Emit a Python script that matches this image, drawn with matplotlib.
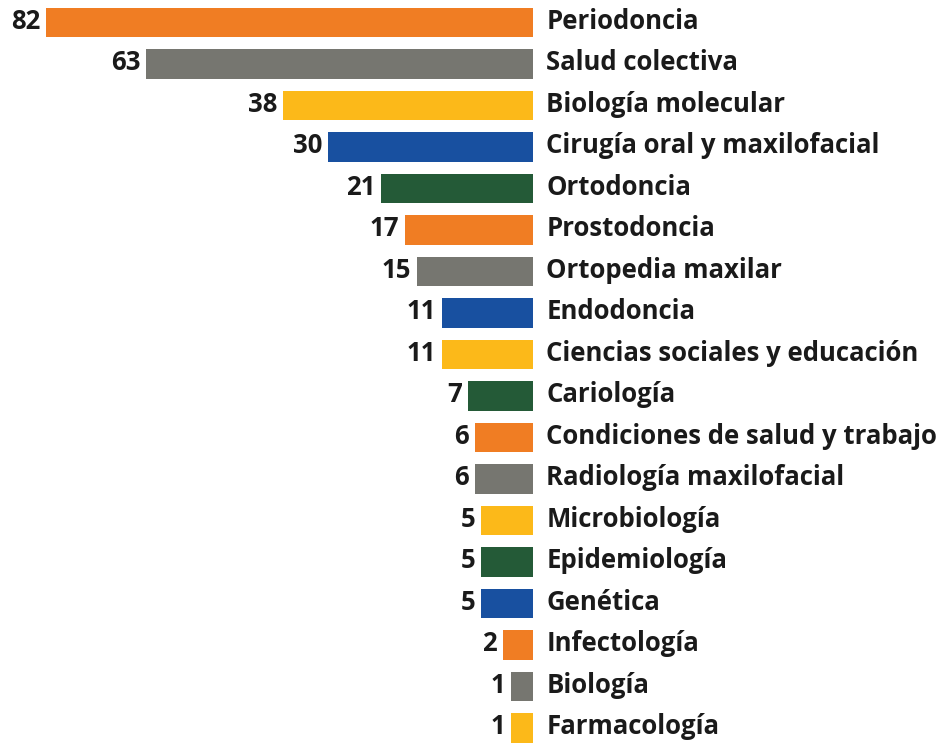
import numpy as np
import matplotlib
matplotlib.use("Agg")
import matplotlib.pyplot as plt

# Data
areas = ["Periodoncia", "Salud colectiva", "Biología molecular",
         "Cirugía oral y maxilofacial", "Ortodoncia", "Prostodoncia",
         "Ortopedia maxilar", "Endodoncia", "Ciencias sociales y educación",
         "Cariología", "Condiciones de salud y trabajo", "Radiología maxilofacial",
         "Microbiología", "Epidemiología", "Genética", "Infectología",
         "Biología", "Farmacología"]
counts = [82, 63, 38, 30, 21, 17, 15, 11, 11, 7, 6, 6, 5, 5, 5, 2, 1, 1]

ORANGE, GRAY, YELLOW = "#F07D23", "#767670", "#FCB919"
BLUE, GREEN = "#1850A0", "#245A37"
bar_colors = [ORANGE, GRAY, YELLOW, BLUE, GREEN, ORANGE, GRAY, BLUE, YELLOW,
              GREEN, ORANGE, GRAY, YELLOW, GREEN, BLUE, ORANGE, GRAY, YELLOW]

# the infographic is not drawn to a linear scale, a power scale fits it best
P = 0.9
def fwd(x):
    return np.sign(x) * np.abs(x) ** P

def inv(t):
    return np.sign(t) * np.abs(t) ** (1 / P)

BASE = -1.57      # bars start a bit before zero
W, H = 946, 744
x0_px = 533       # pixel of the bar base
px_per_t = 8.97
row_px = 41.5
first_px = 22.5

plt.rcParams['font.family'] = ['Open Sans', 'DejaVu Sans']

fig = plt.figure(figsize=(W / 100, H / 100), dpi=100)
ax = fig.add_axes([0, 0, 1, 1])
ax.set_xscale('function', functions=(fwd, inv))

y = np.arange(len(counts))
ax.barh(y, np.array(counts) - BASE, left=BASE, height=0.72,
        color=bar_colors, edgecolor='none')

t_base = fwd(BASE)
ax.set_xlim(inv(t_base + x0_px / px_per_t), inv(t_base - (W - x0_px) / px_per_t))
ax.set_ylim((H - first_px) / row_px, -first_px / row_px)

for i, (name, v) in enumerate(zip(areas, counts)):
    ax.annotate(str(v), xy=(v, i), xytext=(-4, 1), textcoords='offset points',
                ha='right', va='center', fontsize=18.5, fontweight='bold',
                color='#1a1a1a')
    ax.annotate(name, xy=(BASE, i), xytext=(9.5, 1), textcoords='offset points',
                ha='left', va='center', fontsize=18.5, fontweight='bold',
                color='#1a1a1a')

ax.axis('off')
fig.savefig("out.png", dpi=100, facecolor='white')
